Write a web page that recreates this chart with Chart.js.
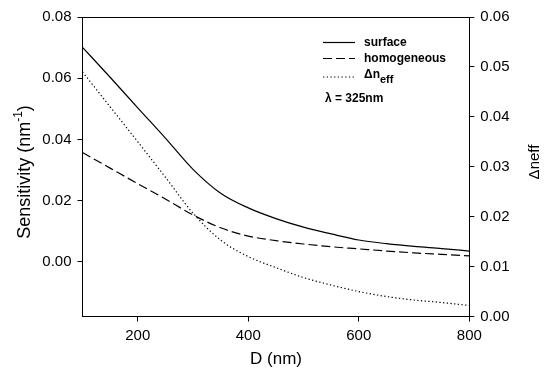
<!DOCTYPE html>
<html>
<head>
<meta charset="utf-8">
<script src="https://cdn.jsdelivr.net/npm/chart.js@4.4.0/dist/chart.umd.min.js"></script>
<style>
  html, body { margin: 0; padding: 0; background: #fff; }
  #wrap { width: 548px; height: 376px; }
</style>
</head>
<body>
<div id="wrap"><canvas id="sens" width="548" height="376"></canvas></div>
<script>
// values
const diameters = [100, 150, 200, 250, 300, 350, 400, 450, 500, 550, 600, 650, 700, 750, 800];
const surface = [0.0701, 0.0603, 0.0503, 0.0404, 0.0302, 0.0224, 0.0176, 0.0141, 0.0113, 0.0091, 0.0071, 0.0059, 0.0050, 0.0043, 0.0035];
const homogeneous = [0.0357, 0.0306, 0.0255, 0.0205, 0.0153, 0.0111, 0.0084, 0.0069, 0.0058, 0.0049, 0.0042, 0.0035, 0.0029, 0.0024, 0.0019];
const deltaNeff = [0.0490, 0.0420, 0.0350, 0.0279, 0.0207, 0.0153, 0.0120, 0.0098, 0.0078, 0.0063, 0.0050, 0.0040, 0.0033, 0.0028, 0.0022];

const xTicks = [200, 400, 600, 800];
const leftTicks = [0.00, 0.02, 0.04, 0.06, 0.08];
const rightTicks = [0.00, 0.01, 0.02, 0.03, 0.04, 0.05, 0.06];

const FONT = "'Liberation Sans', Arial, sans-serif";
const solid = [];
const dashed = [9, 4];
const dotted = [1.3, 2.4];

function pts(ys) {
  return diameters.map((d, i) => ({ x: d, y: ys[i] }));
}

// frame top line, axis titles and the in-plot legend
const decorations = {
  id: 'decorations',
  afterDraw(chart) {
    const ctx = chart.ctx;
    const a = chart.chartArea;
    ctx.save();
    ctx.strokeStyle = '#000';
    ctx.lineWidth = 1;
    ctx.beginPath();
    ctx.moveTo(a.left, Math.round(a.top) + 0.5);
    ctx.lineTo(a.right, Math.round(a.top) + 0.5);
    ctx.stroke();

    ctx.fillStyle = '#000';
    // left title
    ctx.save();
    ctx.translate(30, 172);
    ctx.rotate(-Math.PI / 2);
    const main = 'Sensitivity (nm';
    ctx.font = '18px ' + FONT;
    const w1 = ctx.measureText(main).width;
    ctx.font = '12px ' + FONT;
    const w2 = ctx.measureText('-1').width;
    ctx.font = '18px ' + FONT;
    const w3 = ctx.measureText(')').width;
    let x0 = -(w1 + w2 + w3) / 2;
    ctx.textBaseline = 'alphabetic';
    ctx.textAlign = 'left';
    ctx.fillText(main, x0, 0);
    ctx.font = '12px ' + FONT;
    ctx.fillText('-1', x0 + w1, -8);
    ctx.font = '18px ' + FONT;
    ctx.fillText(')', x0 + w1 + w2, 0);
    ctx.restore();

    // right title
    ctx.save();
    ctx.translate(539, 162);
    ctx.rotate(-Math.PI / 2);
    ctx.font = '15px ' + FONT;
    ctx.textAlign = 'center';
    ctx.textBaseline = 'alphabetic';
    ctx.fillText('\u0394neff', 0, 0);
    ctx.restore();

    // x title
    ctx.font = '17px ' + FONT;
    ctx.textAlign = 'center';
    ctx.textBaseline = 'middle';
    ctx.fillText('D (nm)', 276, 359);

    // legend
    const items = [
      { dash: solid, y: 42.5 },
      { dash: dashed, y: 58.5 },
      { dash: dotted, y: 77 }
    ];
    items.forEach(it => {
      ctx.setLineDash(it.dash);
      ctx.lineWidth = 1.2;
      ctx.beginPath();
      ctx.moveTo(323, it.y);
      ctx.lineTo(355, it.y);
      ctx.stroke();
    });
    ctx.setLineDash([]);
    ctx.font = 'bold 12px ' + FONT;
    ctx.textAlign = 'left';
    ctx.textBaseline = 'middle';
    ctx.fillText('surface', 364, 42.5);
    ctx.fillText('homogeneous', 364, 59);
    ctx.fillText('\u0394n', 364, 75);
    const wd = ctx.measureText('\u0394n').width;
    ctx.font = 'bold 11px ' + FONT;
    ctx.fillText('eff', 364 + wd, 80);
    ctx.font = 'bold 12px ' + FONT;
    ctx.fillText('\u03bb = 325nm', 325, 99);
    ctx.restore();
  }
};

const lineStyle = (dash) => ({
  borderColor: '#000',
  borderWidth: 1.2,
  borderDash: dash,
  pointRadius: 0,
  fill: false,
  cubicInterpolationMode: 'monotone'
});

const axisLook = {
  grid: { drawOnChartArea: false, drawTicks: true, tickLength: 5, color: '#000', lineWidth: 1 },
  border: { display: true, color: '#000', width: 1 }
};

new Chart(document.getElementById('sens'), {
  type: 'line',
  data: {
    datasets: [
      Object.assign({ label: 'surface', data: pts(surface), yAxisID: 'y' }, lineStyle(solid)),
      Object.assign({ label: 'homogeneous', data: pts(homogeneous), yAxisID: 'y' }, lineStyle(dashed)),
      Object.assign({ label: '\u0394neff', data: pts(deltaNeff), yAxisID: 'y2' }, lineStyle(dotted))
    ]
  },
  options: {
    responsive: false,
    animation: false,
    devicePixelRatio: 1,
    layout: { padding: { top: 17, left: 0, right: 0, bottom: 0 } },
    plugins: { legend: { display: false }, tooltip: { enabled: false } },
    scales: {
      x: Object.assign({
        type: 'linear',
        min: 100,
        max: 800,
        afterBuildTicks: s => { s.ticks = xTicks.map(v => ({ value: v })); },
        afterFit: s => { s.height = 59.5; },
        ticks: { color: '#000', font: { family: FONT, size: 15 }, padding: 5, maxRotation: 0, callback: v => String(v) }
      }, axisLook),
      y: Object.assign({
        position: 'left',
        min: -0.0179,
        max: 0.08,
        afterBuildTicks: s => { s.ticks = leftTicks.map(v => ({ value: v })); },
        afterFit: s => { s.width = 82.5; },
        ticks: { color: '#000', font: { family: FONT, size: 15 }, padding: 6, callback: v => v.toFixed(2) }
      }, axisLook),
      y2: Object.assign({
        position: 'right',
        min: 0,
        max: 0.06,
        afterBuildTicks: s => { s.ticks = rightTicks.map(v => ({ value: v })); },
        afterFit: s => { s.width = 78.7; },
        ticks: { color: '#000', font: { family: FONT, size: 15 }, padding: 6, callback: v => v.toFixed(2) }
      }, axisLook)
    }
  },
  plugins: [decorations]
});
</script>
</body>
</html>
